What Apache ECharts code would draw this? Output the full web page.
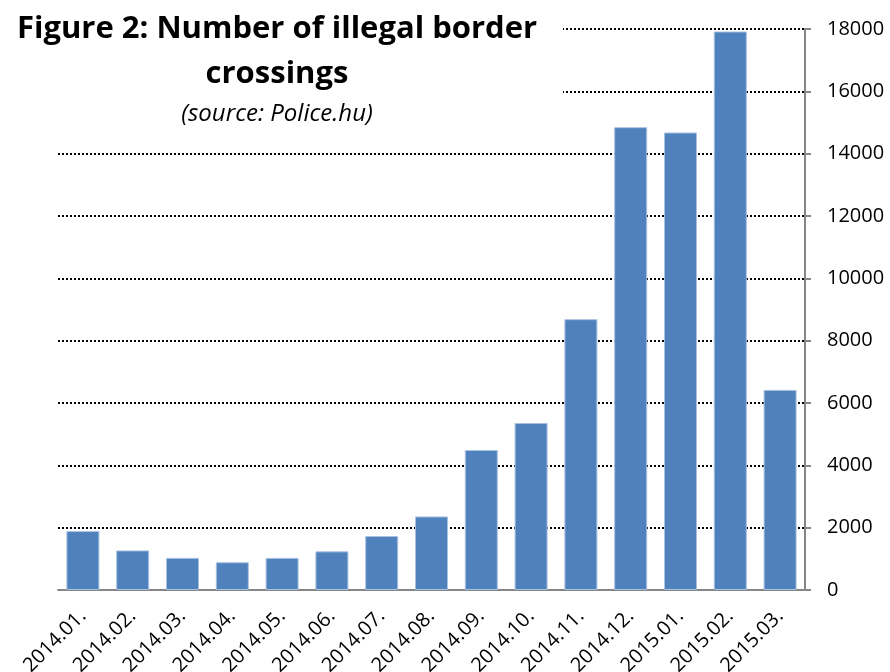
<!DOCTYPE html>
<html>
<head>
<meta charset="utf-8">
<script src="https://cdn.jsdelivr.net/npm/echarts@6/dist/echarts.min.js"></script>
<style>
html,body{margin:0;padding:0;background:#fff;}
#chart{width:890px;height:672px;}
</style>
</head>
<body>
<div id="chart"></div>
<script>
const categories = ['2014.01.','2014.02.','2014.03.','2014.04.','2014.05.','2014.06.','2014.07.','2014.08.','2014.09.','2014.10.','2014.11.','2014.12.','2015.01.','2015.02.','2015.03.'];
const crossings = [1890, 1270, 1030, 890, 1030, 1240, 1730, 2360, 4490, 5360, 8690, 14850, 14680, 17920, 6420];
const yTicks = [0, 2000, 4000, 6000, 8000, 10000, 12000, 14000, 16000, 18000];

const FONT = '"Open Sans", "Noto Sans", sans-serif';
const chart = echarts.init(document.getElementById('chart'));
chart.setOption({
  animation: false,
  backgroundColor: '#ffffff',
  title: {
    text: 'Figure 2: Number of illegal border\ncrossings',
    subtext: '(source: Police.hu)',
    left: 272,
    top: 2,
    textAlign: 'center',
    itemGap: 5,
    z: 10,
    textStyle: { fontFamily: FONT, fontWeight: 'bold', fontSize: 31, color: '#000', lineHeight: 45 },
    subtextStyle: { fontFamily: FONT, fontStyle: 'italic', fontSize: 24, color: '#000' }
  },
  graphic: [{
    type: 'rect', left: 0, top: 0, z: 5,
    shape: { width: 563, height: 128 },
    style: { fill: '#ffffff' }
  }],
  grid: { left: 58, right: 85, top: 29, bottom: 82, containLabel: false, outerBoundsMode: 'none' },
  xAxis: {
    type: 'category',
    data: categories,
    axisLine: { lineStyle: { color: '#868686', width: 2 } },
    axisTick: { length: 7, lineStyle: { color: '#868686', width: 2 } },
    axisLabel: { rotate: 45, fontFamily: FONT, fontSize: 20, color: '#000', margin: 23 }
  },
  yAxis: {
    type: 'value',
    position: 'right',
    min: 0, max: 18000, interval: 2000,
    axisLine: { show: true, lineStyle: { color: '#868686', width: 2 } },
    axisTick: { show: true, length: 6, lineStyle: { color: '#868686', width: 2 } },
    axisLabel: {
      fontFamily: FONT, fontSize: 20, color: '#000', margin: 22,
      formatter: v => yTicks.includes(v) ? String(v) : ''
    },
    splitLine: { show: true, lineStyle: { color: '#000', width: 2, type: [2, 2] } }
  },
  series: [{
    type: 'bar',
    data: crossings,
    barWidth: 33,
    itemStyle: { color: '#4F81BD', borderColor: '#a9c1e0', borderWidth: 1 }
  }]
});
</script>
</body>
</html>
